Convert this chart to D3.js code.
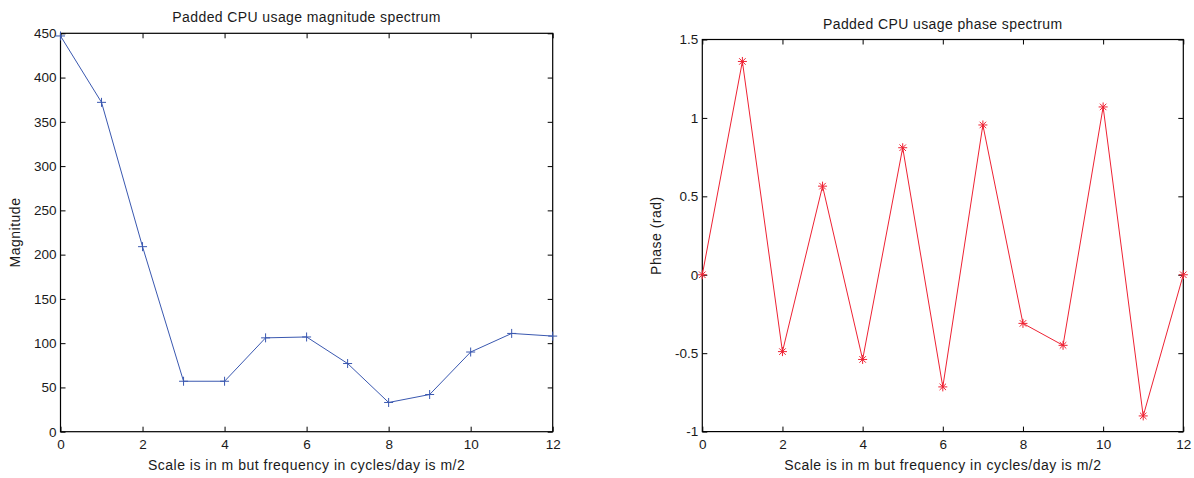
<!DOCTYPE html>
<html><head><meta charset="utf-8">
<script src="https://cdn.jsdelivr.net/npm/d3@7"></script>
<style>
html,body{margin:0;padding:0;background:#fff;}
text{font-family:"Liberation Sans",Arial,Helvetica,sans-serif;fill:#1a1a1a;}
</style></head>
<body>
<svg id="chart" width="1194" height="478"></svg>
<script>
const m = [0,1,2,3,4,5,6,7,8,9,10,11,12];
const magnitude = [447,372,209,57,57,106,107,77,33,42,90,111,108];
const phase = [0,1.36,-0.49,0.565,-0.54,0.81,-0.715,0.955,-0.31,-0.45,1.07,-0.9,0];
const xTicks = [0,2,4,6,8,10,12];
const magTicks = [0,50,100,150,200,250,300,350,400,450];
const phaseTicks = [-1,-0.5,0,0.5,1,1.5];
const phaseTickLabels = ["-1","-0.5","0","0.5","1","1.5"];

const svg = d3.select("#chart");

function panel(opts){
  const g = svg.append("g");
  const x = d3.scaleLinear().domain([0,12]).range([opts.x0,opts.x1]);
  const y = d3.scaleLinear().domain(opts.ydom).range([opts.y1,opts.y0]);
  const tl = 5;
  const bottom = g.append("g").attr("transform",`translate(0,${opts.y1})`)
    .call(d3.axisBottom(x).tickValues(xTicks).tickSize(-tl).tickPadding(8).tickFormat(d3.format("d")));
  const top = g.append("g").attr("transform",`translate(0,${opts.y0})`)
    .call(d3.axisTop(x).tickValues(xTicks).tickSize(-tl).tickFormat(""));
  const left = g.append("g").attr("transform",`translate(${opts.x0},0)`)
    .call(d3.axisLeft(y).tickValues(opts.yticks).tickSize(-tl).tickPadding(4).tickFormat((d,i)=>opts.ylabels[i]));
  const right = g.append("g").attr("transform",`translate(${opts.x1},0)`)
    .call(d3.axisRight(y).tickValues(opts.yticks).tickSize(-tl).tickFormat(""));
  [bottom,top,left,right].forEach(a=>{
    a.select(".domain").remove();
    a.selectAll(".tick line").attr("stroke","#000").attr("stroke-width",1);
    a.selectAll(".tick text").attr("font-size",13.5).attr("fill","#1a1a1a");
  });
  g.append("rect").attr("x",opts.x0).attr("y",opts.y0)
    .attr("width",opts.x1-opts.x0).attr("height",opts.y1-opts.y0)
    .attr("fill","none").attr("stroke","#000").attr("stroke-width",1.2);
  const line = d3.line().x((d,i)=>x(m[i])).y(d=>y(d));
  g.append("path").datum(opts.data).attr("d",line)
    .attr("fill","none").attr("stroke",opts.color).attr("stroke-width",1);
  const s = 4.5;
  const mk = g.append("g").selectAll("g").data(opts.data).join("g")
    .attr("transform",(d,i)=>`translate(${x(m[i])},${y(d)})`);
  mk.append("path").attr("d",`M${-s},0H${s}M0,${-s}V${s}`)
    .attr("stroke",opts.color).attr("stroke-width",1);
  if(opts.star){
    const t = s*0.72;
    mk.append("path").attr("d",`M${-t},${-t}L${t},${t}M${-t},${t}L${t},${-t}`)
      .attr("stroke",opts.color).attr("stroke-width",1);
  }
  g.append("text").attr("x",(opts.x0+opts.x1)/2).attr("y",opts.y0-11)
    .attr("text-anchor","middle").attr("font-size",14).attr("letter-spacing",0.4).text(opts.title);
  g.append("text").attr("x",(opts.x0+opts.x1)/2).attr("y",470)
    .attr("text-anchor","middle").attr("font-size",14).attr("letter-spacing",0.5).text("Scale is in m but frequency in cycles/day is m/2");
  g.append("text").attr("transform",`translate(${opts.ylx},${(opts.y0+opts.y1)/2}) rotate(-90)`)
    .attr("text-anchor","middle").attr("font-size",14).attr("letter-spacing",0.5).text(opts.ylabel);
}

panel({x0:60.5,x1:552.7,y0:33.3,y1:431.7,ydom:[0,450],yticks:magTicks,ylabels:magTicks.map(String),
  data:magnitude,color:"#3a58b0",star:false,title:"Padded CPU usage magnitude spectrum",ylabel:"Magnitude",ylx:20});
panel({x0:702.3,x1:1183.3,y0:39.5,y1:431.6,ydom:[-1,1.5],yticks:phaseTicks,ylabels:phaseTickLabels,
  data:phase,color:"#ee2233",star:true,title:"Padded CPU usage phase spectrum",ylabel:"Phase (rad)",ylx:661});
</script>
</body></html>
